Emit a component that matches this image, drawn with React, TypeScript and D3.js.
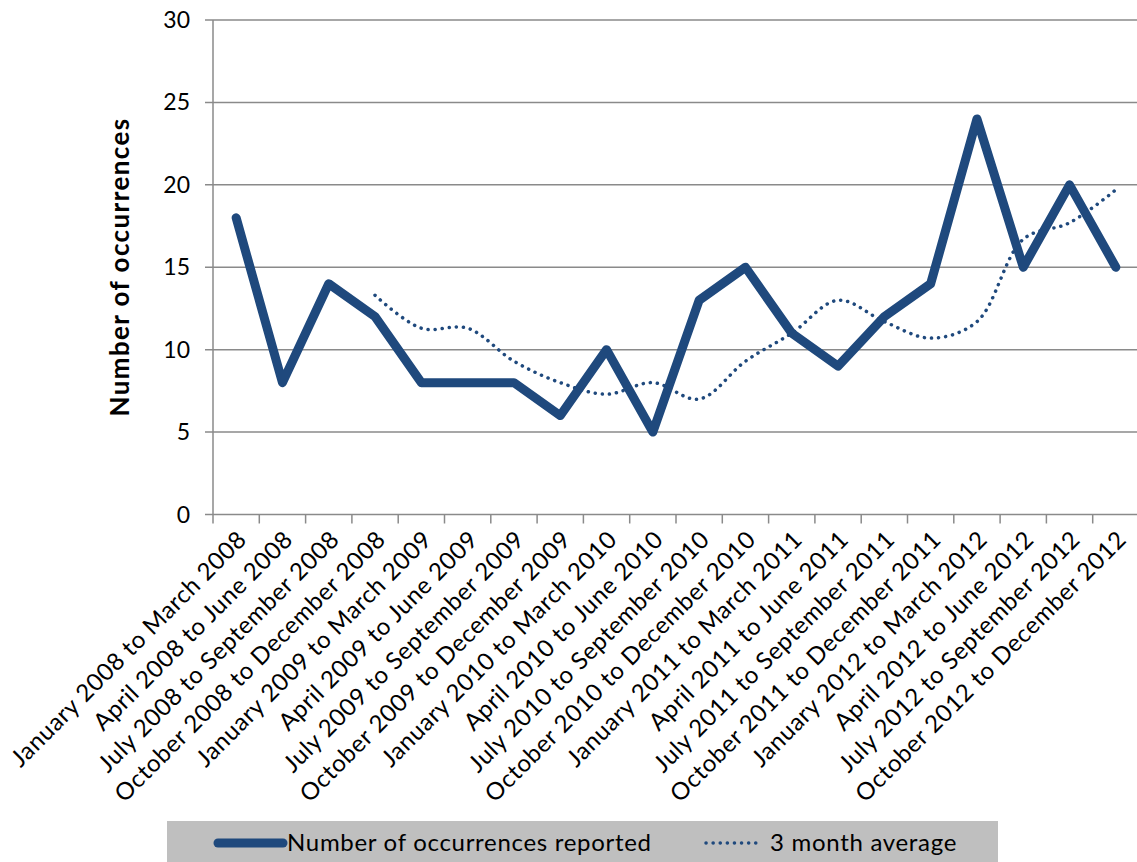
import React from 'react';
import * as d3 from 'd3';

// Quarter labels along the x axis
const categories = [
  'January 2008 to March 2008',
  'April 2008 to June 2008',
  'July 2008 to September 2008',
  'October 2008 to December 2008',
  'January 2009 to March 2009',
  'April 2009 to June 2009',
  'July 2009 to September 2009',
  'October 2009 to December 2009',
  'January 2010 to March 2010',
  'April 2010 to June 2010',
  'July 2010 to September 2010',
  'October 2010 to December 2010',
  'January 2011 to March 2011',
  'April 2011 to June 2011',
  'July 2011 to September 2011',
  'October 2011 to December 2011',
  'January 2012 to March 2012',
  'April 2012 to June 2012',
  'July 2012 to September 2012',
  'October 2012 to December 2012',
];

const occurrences = [18, 8, 14, 12, 8, 8, 8, 6, 10, 5, 13, 15, 11, 9, 12, 14, 24, 15, 20, 15];

// 3 month average (starts at the 4th quarter)
const average: (number | null)[] = [
  null, null, null, 13.3, 11.3, 11.3, 9.3, 8, 7.3, 8, 7, 9.3, 11, 13, 11.7, 10.7, 11.7, 16.7, 17.7, 19.7,
];

const yTicks = [0, 5, 10, 15, 20, 25, 30];

const WIDTH = 1137;
const HEIGHT = 862;
const BLUE = '#1f497d';
const GRID = '#8a8a8a';
const FONT = 'Lato, "Open Sans", sans-serif';

export default function App() {
  const left = 213;
  const step = 46.3;
  const top = 20;
  const bottom = 514.5;

  const x = d3.scaleBand<string>()
    .domain(categories)
    .range([left, left + step * categories.length]);

  const y = d3.scaleLinear().domain([0, 30]).range([bottom, top]);

  const cx = (c: string) => (x(c) ?? 0) + x.bandwidth() / 2;

  const mainLine = d3.line<number>()
    .x((d, i) => cx(categories[i]))
    .y(d => y(d));

  const avgLine = d3.line<number | null>()
    .defined(d => d !== null)
    .x((d, i) => cx(categories[i]))
    .y(d => y(d as number))
    .curve(d3.curveCatmullRom.alpha(0.5));

  const tickXs = categories.map(c => x(c) ?? 0);

  return (
    <svg
      width={WIDTH}
      height={HEIGHT}
      style={{ position: 'absolute', left: 0, top: 0, fontFamily: FONT }}
    >
      <rect width={WIDTH} height={HEIGHT} fill="#ffffff" />

      {/* horizontal grid lines */}
      {yTicks.map(t => (
        <line
          key={t}
          x1={left - 8}
          x2={WIDTH}
          y1={y(t)}
          y2={y(t)}
          stroke={GRID}
          strokeWidth={1.5}
        />
      ))}

      {/* y axis */}
      <line x1={left} x2={left} y1={top} y2={bottom} stroke={GRID} strokeWidth={1.5} />
      {yTicks.map(t => (
        <text
          key={t}
          x={190}
          y={y(t)}
          dy="0.35em"
          textAnchor="end"
          fontSize={23}
          fill="#000"
        >
          {t}
        </text>
      ))}

      {/* x axis tick marks */}
      {tickXs.map((tx, i) => (
        <line key={i} x1={tx} x2={tx} y1={bottom} y2={bottom + 9} stroke={GRID} strokeWidth={1.5} />
      ))}

      {/* x labels */}
      {categories.map(c => {
        const px = cx(c) + 6;
        const py = 535;
        return (
          <text
            key={c}
            x={px}
            y={py}
            textAnchor="end"
            fontSize={24}
            letterSpacing={0.6}
            dy="0.35em"
            transform={`rotate(-45 ${px} ${py})`}
            fill="#000"
          >
            {c}
          </text>
        );
      })}

      {/* y axis title */}
      <text
        transform={`translate(129, 267) rotate(-90)`}
        textAnchor="middle"
        fontSize={26}
        letterSpacing={1.4}
        fontWeight="bold"
        fill="#000"
      >
        Number of occurrences
      </text>

      {/* 3 month average */}
      <path
        d={avgLine(average) ?? ''}
        fill="none"
        stroke={BLUE}
        strokeWidth={3.5}
        strokeDasharray="0.1 7"
        strokeLinecap="round"
      />

      {/* occurrences */}
      <path
        d={mainLine(occurrences) ?? ''}
        fill="none"
        stroke={BLUE}
        strokeWidth={9}
        strokeLinejoin="round"
        strokeLinecap="round"
      />

      {/* legend */}
      <rect x={167} y={821} width={831} height={60} fill="#bfbfbf" />
      <line x1={218} x2={283} y1={843} y2={843} stroke={BLUE} strokeWidth={9} strokeLinecap="round" />
      <text x={287} y={843} dy="0.35em" fontSize={24} letterSpacing={0.7} fill="#000">
        Number of occurrences reported
      </text>
      <line
        x1={706}
        x2={762}
        y1={843}
        y2={843}
        stroke={BLUE}
        strokeWidth={3.5}
        strokeDasharray="0.1 7"
        strokeLinecap="round"
      />
      <text x={770} y={843} dy="0.35em" fontSize={24} letterSpacing={0.7} fill="#000">
        3 month average
      </text>
    </svg>
  );
}
